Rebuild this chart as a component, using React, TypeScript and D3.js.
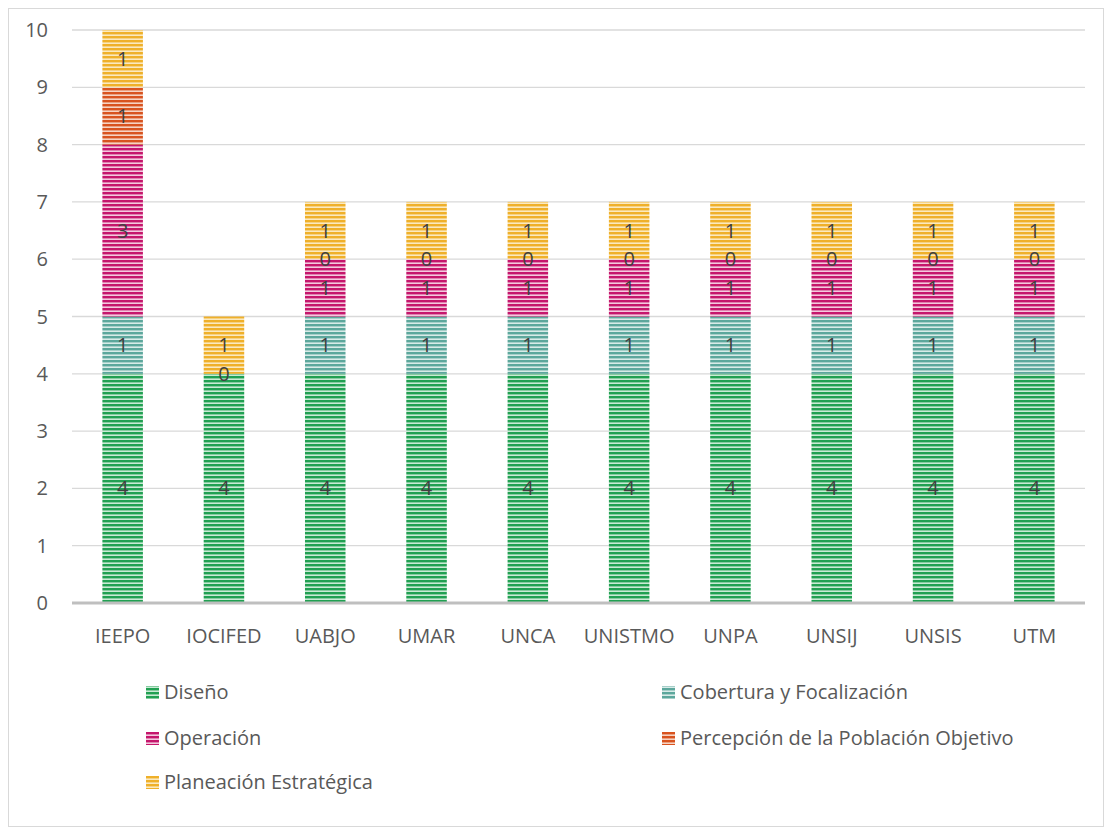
import React from 'react';
import * as d3 from 'd3';

const categories = ['IEEPO', 'IOCIFED', 'UABJO', 'UMAR', 'UNCA', 'UNISTMO', 'UNPA', 'UNSIJ', 'UNSIS', 'UTM'];
const seriesNames = ['Diseño', 'Cobertura y Focalización', 'Operación', 'Percepción de la Población Objetivo', 'Planeación Estratégica'];
// null = no label / no bar
const diseno = [4, 4, 4, 4, 4, 4, 4, 4, 4, 4];
const cobertura = [1, 0, 1, 1, 1, 1, 1, 1, 1, 1];
const operacion = [3, null, 1, 1, 1, 1, 1, 1, 1, 1];
const percepcion = [1, null, 0, 0, 0, 0, 0, 0, 0, 0];
const planeacion = [1, 1, 1, 1, 1, 1, 1, 1, 1, 1];
const yTicks = [0, 1, 2, 3, 4, 5, 6, 7, 8, 9, 10];

const colors = ['#21a052', '#5ca79c', '#c5166c', '#d8531f', '#efb02a'];
const lights = ['#c9ead5', '#d8ebe8', '#f3c9dd', '#f6d3c3', '#fbe9bf'];

const W = 1104;
const H = 827;
const FONT = "'Open Sans', sans-serif";
const FS = 20;

const App: React.FC = () => {
  const values = [diseno, cobertura, operacion, percepcion, planeacion];
  const x = d3.scaleBand<string>().domain(categories).range([72, 1085]).paddingInner(0.6).paddingOuter(0.3);
  const y = d3.scaleLinear().domain([0, 10]).range([603, 30]);

  const stacks = categories.map((c, i) => {
    let acc = 0;
    return values.map((s, k) => {
      const v = s[i];
      const y0 = acc;
      acc += v ?? 0;
      return { k, v, y0, y1: acc, cat: c };
    });
  });

  const legend = [
    { k: 0, x: 146, y: 692 },
    { k: 1, x: 662, y: 692 },
    { k: 2, x: 146, y: 738 },
    { k: 3, x: 662, y: 738 },
    { k: 4, x: 146, y: 782 },
  ];

  return (
    <svg width={W} height={H} style={{ position: 'absolute', left: 0, top: 0 }} fontFamily={FONT}>
      <defs>
        {colors.map((c, k) => (
          <pattern key={k} id={`p${k}`} width={4} height={4} patternUnits="userSpaceOnUse">
            <rect width={4} height={4} fill={lights[k]} />
            <rect width={4} height={2.4} fill={c} />
          </pattern>
        ))}
      </defs>
      <rect x={8.5} y={8.5} width={W - 9} height={H - 9} fill="#fff" stroke="#d9d9d9" />
      {yTicks.map(t => (
        <g key={t}>
          {t > 0 && <line x1={72} x2={1085} y1={y(t)} y2={y(t)} stroke="#d9d9d9" strokeWidth={1.3} />}
          <text x={48} y={y(t)} dy="0.35em" textAnchor="end" fontSize={FS} fill="#595959">{t}</text>
        </g>
      ))}
      {stacks.map((st, i) =>
        st.map(d =>
          d.v ? (
            <rect key={`${i}-${d.k}`} x={x(d.cat)} width={x.bandwidth()} y={y(d.y1)} height={y(d.y0) - y(d.y1)}
              fill={`url(#p${d.k})`} />
          ) : null
        )
      )}
      <line x1={72} x2={1085} y1={y(0)} y2={y(0)} stroke="#bfbfbf" strokeWidth={3} />
      {stacks.map((st, i) =>
        st.map(d =>
          d.v !== null ? (
            <text key={`l${i}-${d.k}`} x={(x(d.cat) ?? 0) + x.bandwidth() / 2} y={y((d.y0 + d.y1) / 2)} dy="0.35em"
              textAnchor="middle" fontSize={FS} fill="#404040">{d.v}</text>
          ) : null
        )
      )}
      {categories.map(c => (
        <text key={c} x={(x(c) ?? 0) + x.bandwidth() / 2} y={636} dy="0.35em" textAnchor="middle" fontSize={FS} fill="#595959">{c}</text>
      ))}
      {legend.map(l => (
        <g key={l.k}>
          <rect x={l.x} y={l.y - 6} width={13} height={13} fill={`url(#p${l.k})`} />
          <text x={l.x + 18} y={l.y} dy="0.35em" fontSize={FS} fill="#595959">{seriesNames[l.k]}</text>
        </g>
      ))}
    </svg>
  );
};

export default App;
